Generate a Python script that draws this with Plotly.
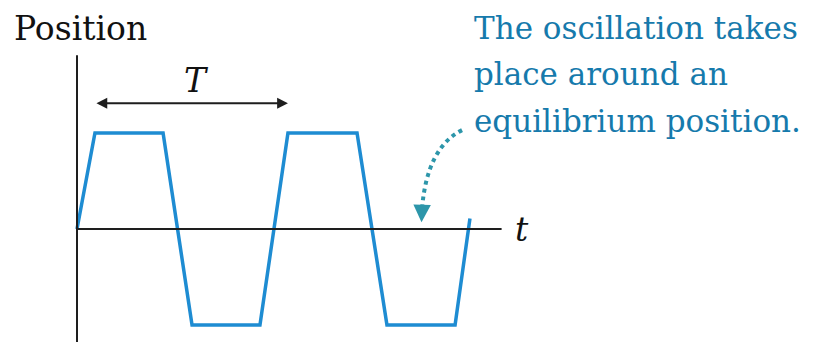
import plotly.graph_objects as go

# Trapezoidal oscillation: time (arbitrary units) and position (units of amplitude)
t_vals = [0.0, 0.93, 4.46, 5.96, 9.48, 10.93, 14.51, 16.06, 19.59, 20.36]
pos_vals = [0.0, 1.0, 1.0, -1.0, -1.0, 1.0, 1.0, -1.0, -1.0, 0.11]
period_start = 0.93
period = 10.0

W, H = 821, 342
px_per_t = 19.3     # horizontal scale
px_per_pos = 96.0   # vertical scale
origin_px = (77, 229)

x_range = [-origin_px[0] / px_per_t, (W - origin_px[0]) / px_per_t]
y_range = [-(H - origin_px[1]) / px_per_pos, origin_px[1] / px_per_pos]

LINE_BLUE = "rgb(30,140,210)"
TEXT_BLUE = "rgb(22,122,172)"
DOT_TEAL = "rgb(45,150,170)"
AXIS = "#1e1e1e"
SERIF = "DejaVu Serif"

fig = go.Figure()

# axes drawn as plain lines through the origin
fig.add_shape(type="line", x0=0, x1=0, y0=y_range[0] - 0.1, y1=1.81,
              line=dict(color=AXIS, width=2))
fig.add_shape(type="line", x0=0, x1=22.0, y0=0, y1=0,
              line=dict(color=AXIS, width=2))

fig.add_trace(go.Scatter(
    x=t_vals, y=pos_vals, mode="lines",
    line=dict(color=LINE_BLUE, width=3.5),
    hoverinfo="skip", showlegend=False,
))

# period marker
arrow_y = 1.31
fig.add_annotation(
    x=period_start + period, y=arrow_y, ax=period_start, ay=arrow_y,
    xref="x", yref="y", axref="x", ayref="y",
    text="", showarrow=True, arrowside="end+start",
    arrowhead=2, arrowsize=1.2, arrowwidth=1.8, arrowcolor=AXIS,
)
fig.add_annotation(
    x=period_start + period / 2, y=1.55, xref="x", yref="y", xshift=5,
    text="<i>T</i>", showarrow=False,
    font=dict(family=SERIF, size=33, color="#111"),
)

# axis labels
fig.add_annotation(
    x=12 / W, y=1 - 28 / H, xref="paper", yref="paper",
    xanchor="left", yanchor="middle", text="Position", showarrow=False,
    font=dict(family=SERIF, size=33, color="#111"),
)
fig.add_annotation(
    x=22.6, y=0.0, xref="x", yref="y", xanchor="left",
    text="<i>t</i>", showarrow=False,
    font=dict(family=SERIF, size=33, color="#111"),
)

# explanatory note
note_lines = ["The oscillation takes", "place around an", "equilibrium position."]
for i, line in enumerate(note_lines):
    fig.add_annotation(
        x=472 / W, y=1 - (28 + 46.5 * i) / H, xref="paper", yref="paper",
        xanchor="left", yanchor="middle", text=line, showarrow=False,
        font=dict(family=SERIF, size=31, color=TEXT_BLUE),
    )

# dotted pointer from the note to the equilibrium line
p0 = (19.95, 1.03)
c = (18.15, 0.85)
p1 = (17.88, 0.22)
fig.add_shape(
    type="path", xref="x", yref="y",
    path=f"M {p0[0]},{p0[1]} Q {c[0]},{c[1]} {p1[0]},{p1[1]}",
    line=dict(color=DOT_TEAL, width=4, dash="dot"),
)
fig.add_annotation(
    x=17.85, y=0.07, ax=17.88, ay=0.24,
    xref="x", yref="y", axref="x", ayref="y",
    text="", showarrow=True, arrowhead=2, arrowsize=1.0,
    arrowwidth=3.5, arrowcolor=DOT_TEAL,
)

fig.update_xaxes(range=x_range, visible=False, fixedrange=True)
fig.update_yaxes(range=y_range, visible=False, fixedrange=True)
fig.update_layout(
    width=W, height=H, margin=dict(l=0, r=0, t=0, b=0),
    paper_bgcolor="white", plot_bgcolor="white",
    font=dict(family=SERIF),
)

fig.write_html("out.html")
